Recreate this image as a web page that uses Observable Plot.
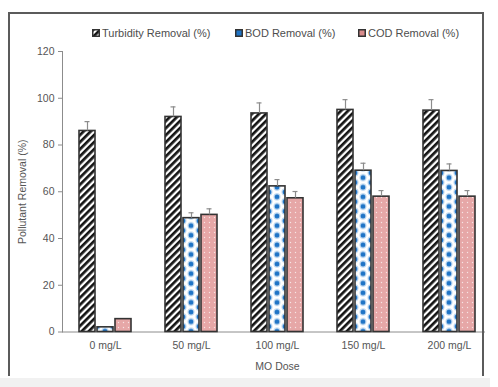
<!DOCTYPE html>
<html><head><meta charset="utf-8">
<script src="https://cdn.jsdelivr.net/npm/d3@7"></script>
<script src="https://cdn.jsdelivr.net/npm/@observablehq/plot@0.6"></script>
<style>
html,body{margin:0;padding:0;background:#fff;width:498px;height:387px;overflow:hidden;position:relative;font-family:"Liberation Sans",Arial,sans-serif;}
#chart{position:absolute;left:0;top:0;}
#frame{position:absolute;left:8px;top:12px;width:476px;height:364px;border:2px solid #5b5b5b;border-bottom:none;box-sizing:border-box;pointer-events:none;}
#cover{position:absolute;left:485px;top:0;width:13px;height:378px;background:#fff;}
#strip{position:absolute;left:0;top:378px;width:490px;height:9px;background:#f1f1f1;}
.legend{position:absolute;top:26px;font-size:11px;color:#4d4d4d;display:flex;align-items:center;white-space:nowrap;line-height:14px;}
.legend svg{margin-right:2px;display:block}
</style></head><body>
<svg width="0" height="0" style="position:absolute;left:0;top:0">
<defs>
  <pattern id="pTurb" patternUnits="userSpaceOnUse" width="5" height="5" patternTransform="rotate(45)">
    <rect width="5" height="5" fill="#ffffff"/>
    <rect width="2.7" height="5" fill="#141414"/>
  </pattern>
  <pattern id="pBod" patternUnits="userSpaceOnUse" width="16" height="9.6">
    <rect width="16" height="9.6" fill="#ffffff"/>
    <circle cx="8" cy="4.8" r="3.5" fill="#b9d5f0"/>
    <circle cx="0" cy="0" r="3.5" fill="#b9d5f0"/>
    <circle cx="16" cy="0" r="3.5" fill="#b9d5f0"/>
    <circle cx="0" cy="9.6" r="3.5" fill="#b9d5f0"/>
    <circle cx="16" cy="9.6" r="3.5" fill="#b9d5f0"/>
    <circle cx="8" cy="4.8" r="2.4" fill="#1f74c6"/>
    <circle cx="0" cy="0" r="2.4" fill="#1f74c6"/>
    <circle cx="16" cy="0" r="2.4" fill="#1f74c6"/>
    <circle cx="0" cy="9.6" r="2.4" fill="#1f74c6"/>
    <circle cx="16" cy="9.6" r="2.4" fill="#1f74c6"/>
  </pattern>
  <pattern id="pCod" patternUnits="userSpaceOnUse" width="5" height="5">
    <rect width="5" height="5" fill="#e6a7a7"/>
    <circle cx="2.5" cy="2.5" r="0.7" fill="#f7e4e4"/>
  </pattern>
</defs>
</svg>
<div id="chart"></div>
<div id="cover"></div>
<div id="frame"></div>
<div id="strip"></div>
<div id="legend"></div>
<script>
const doses = ["0 mg/L", "50 mg/L", "100 mg/L", "150 mg/L", "200 mg/L"];
const seriesNames = ["Turbidity Removal (%)", "BOD Removal (%)", "COD Removal (%)"];
const turbidity = [86, 92, 93.5, 95, 94.7];
const turbidityErr = [4, 4.3, 4.5, 4.4, 4.7];
const bod = [2, 48.7, 62.3, 69, 68.9];
const bodErr = [0, 2.3, 2.9, 3.2, 3.0];
const cod = [5.5, 50.1, 57.2, 57.9, 57.9];
const codErr = [0, 2.6, 2.9, 2.6, 2.6];
const yTicks = [0, 20, 40, 60, 80, 100, 120];
const patternIds = ["pTurb", "pBod", "pCod"];
const legendSwatchFills = ["url(#pTurb)", "#1f74c6", "#d98c8c"];

const values = [turbidity, bod, cod];
const errs = [turbidityErr, bodErr, codErr];
const rows = [];
doses.forEach((dose, i) => {
  seriesNames.forEach((s, j) => {
    rows.push({dose, series: s, value: values[j][i], err: errs[j][i]});
  });
});
const withErr = rows.filter(d => d.err > 0);
const gray = "#8c8c8c";

const chart = Plot.plot({
  width: 498,
  height: 387,
  marginLeft: 61,
  marginRight: 5,
  marginTop: 51,
  marginBottom: 55.5,
  style: {fontFamily: "'Liberation Sans', Arial, sans-serif", fontSize: "10.5px", color: "#555", background: "transparent"},
  fx: {domain: doses, padding: 0},
  x: {domain: seriesNames, paddingInner: 0.12, paddingOuter: 0.83, axis: null},
  y: {domain: [0, 120]},
  color: {type: "ordinal", domain: seriesNames, range: patternIds.map(id => `url(#${id})`)},
  marks: [
    Plot.frame({anchor: "left", fx: doses[0], stroke: gray}),
    Plot.ruleY([0], {stroke: gray}),
    Plot.barY(rows, {fx: "dose", x: "series", y: "value", fill: "series", stroke: "#333", strokeWidth: 1.6}),
    Plot.ruleX(withErr, {fx: "dose", x: "series", y1: "value", y2: d => d.value + d.err, stroke: gray, strokeWidth: 1.2}),
    Plot.tickY(withErr, {fx: "dose", x: "series", y: d => d.value + d.err, stroke: gray, strokeWidth: 1.2, insetLeft: 5.5, insetRight: 5.5}),
    Plot.axisY({ticks: yTicks, tickSize: 4, tickPadding: 4, stroke: gray, fill: "#555", fontSize: 10.5,
      label: "Pollutant Removal (%)", labelAnchor: "center", labelOffset: 44, labelArrow: "none"}),
    Plot.axisFx({anchor: "bottom", tickSize: 0, tickPadding: 10, fill: "#555", fontSize: 10.5,
      label: "MO Dose", labelAnchor: "center", labelOffset: 38})
  ]
});
document.getElementById("chart").appendChild(chart);

// align the BOD pattern columns with the BOD bars via the inner x scale
const xs = chart.scale("x");
const bodPat = document.getElementById("pBod");
bodPat.setAttribute("x", xs.apply(seriesNames[1]));
bodPat.setAttribute("width", xs.bandwidth);

// legend
const legendPos = [92, 235, 358];
const legend = document.getElementById("legend");
seriesNames.forEach((s, j) => {
  const item = document.createElement("div");
  item.className = "legend";
  item.style.left = legendPos[j] + "px";
  item.innerHTML = `<svg width="8" height="8"><rect x="0.75" y="0.75" width="6.5" height="6.5" fill="${legendSwatchFills[j]}" stroke="#333" stroke-width="1.5"/></svg><span>${s}</span>`;
  legend.appendChild(item);
});
</script>
</body></html>
